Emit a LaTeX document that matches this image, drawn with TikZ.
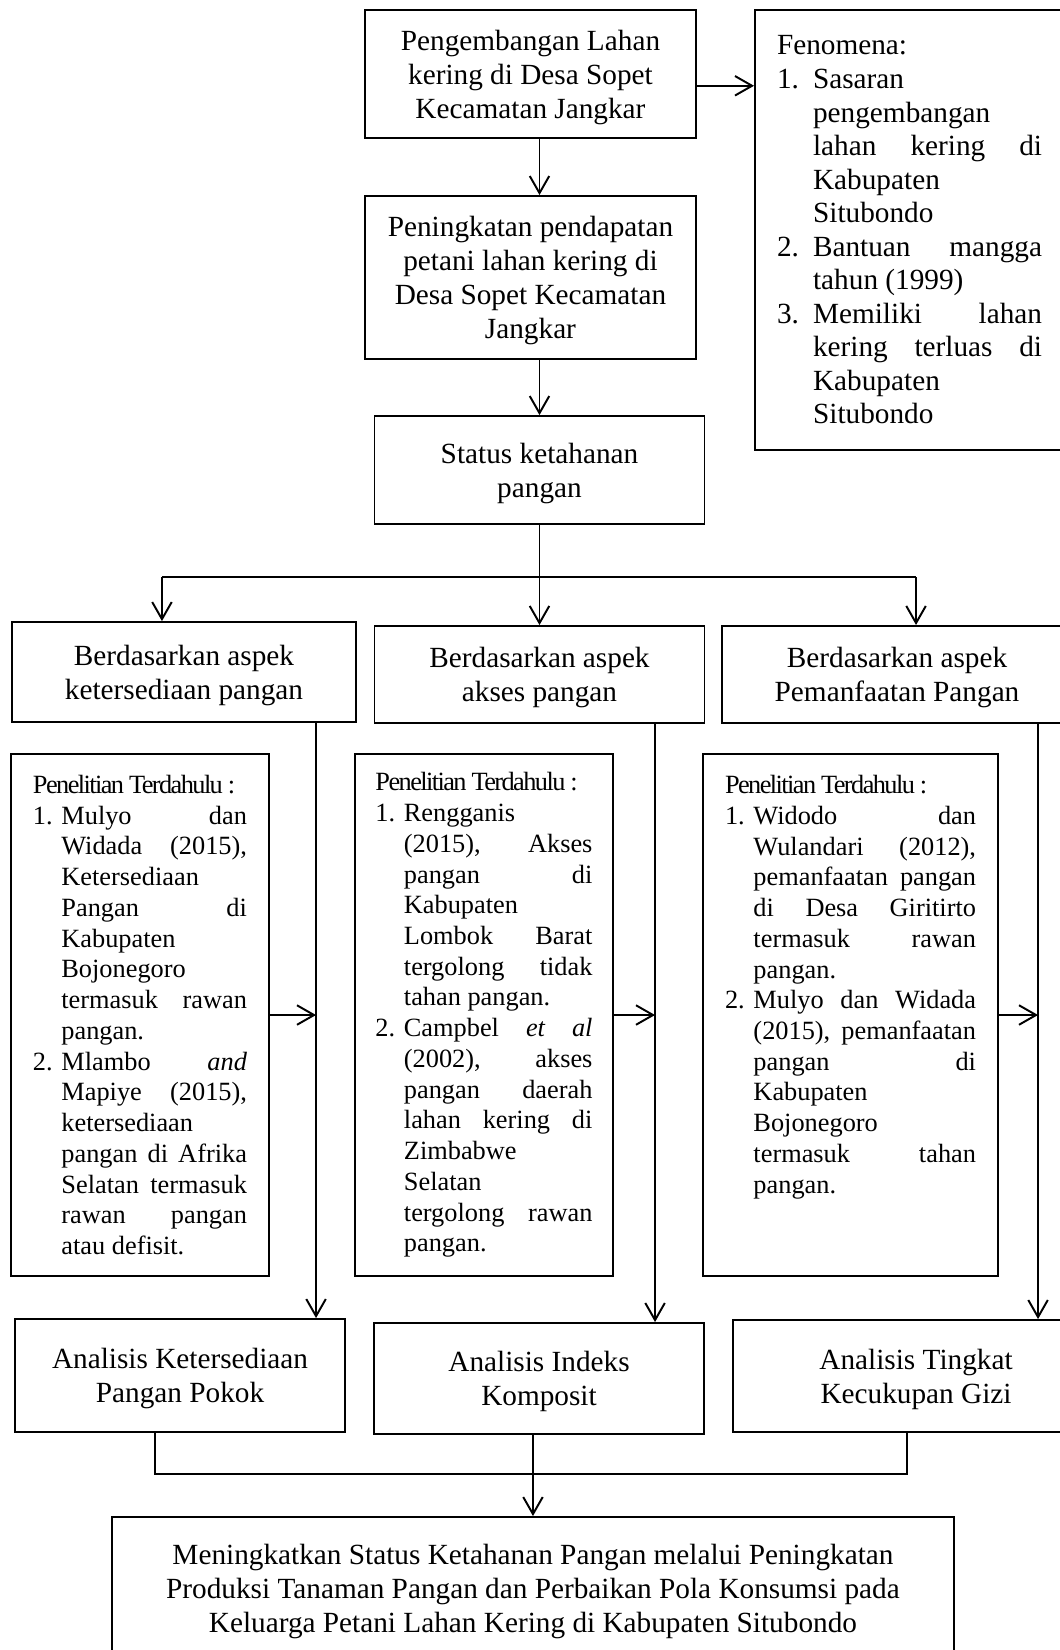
\documentclass[tikz,border=0pt]{standalone}
\usepackage{fontspec}
\setmainfont{Liberation Serif}
\usetikzlibrary{arrows.meta, positioning, calc}

\tolerance=10000
\hyphenpenalty=10000
\exhyphenpenalty=10000
\hbadness=10000

\newlength{\itemind}
\setlength{\itemind}{0.41cm}
\newcommand{\litem}[1]{\par\hangindent=\itemind\hangafter=1\noindent\makebox[\itemind][l]{#1}}
\newcommand{\lithead}{{\addfontfeature{LetterSpace=-6}Penelitian Terdahulu :}}

\begin{document}
\begin{tikzpicture}[
    box/.style={rectangle, draw, line width=0.8pt, align=center, inner sep=0pt, text depth=0pt,
        font=\fontsize{12}{13.9}\selectfont},
    list/.style={rectangle, draw, line width=0.8pt, align=justify, inner xsep=0pt, inner ysep=0pt},
    lit/.style={list, minimum height=7.52cm, font=\fontsize{10.8}{12.6}\selectfont},
    arrow/.style={->, >={Straight Barb[length=7pt,width=8pt]}, line width=0.8pt},
    line/.style={line width=0.8pt}
]
\useasboundingbox (0,0) rectangle (15.26,-23.776);

% Top: development and income
\node[box, minimum width=4.77cm, minimum height=1.844cm] (dev) at (7.644,-1.066) {
    Pengembangan Lahan\\
    kering di Desa Sopet\\
    Kecamatan Jangkar
};
\node[box, minimum width=4.77cm, minimum height=2.349cm] (prev) at (7.644,-3.999) {
    Peningkatan pendapatan\\
    petani lahan kering di\\
    Desa Sopet Kecamatan\\
    Jangkar
};
\node[box, minimum width=4.755cm, minimum height=1.556cm] (status) at (7.774,-6.773) {
    Status ketahanan\\
    pangan
};

% Fenomena: top-right
\node[list, font=\fontsize{12}{13.75}\selectfont, text width=3.819cm, minimum width=4.453cm,
    minimum height=6.34cm, execute at begin node={\setlength{\itemind}{0.52cm}}] (fen) at (13.106,-3.314) {
    Fenomena:
    \litem{1.}Sasaran\linebreak
    pengembangan\linebreak
    lahan kering di\linebreak
    Kabupaten\linebreak
    Situbondo
    \litem{2.}Bantuan mangga\linebreak
    tahun (1999)
    \litem{3.}Memiliki lahan\linebreak
    kering terluas di\linebreak
    Kabupaten\linebreak
    Situbondo\par
};

% Aspects
\node[box, minimum width=4.964cm, minimum height=1.441cm] (asp1) at (2.651,-9.684) {
    Berdasarkan aspek\\
    ketersediaan pangan
};
\node[box, minimum width=4.755cm, minimum height=1.398cm] (asp2) at (7.774,-9.719) {
    Berdasarkan aspek\\
    akses pangan
};
\node[box, minimum width=5.044cm, minimum height=1.398cm] (asp3) at (12.926,-9.719) {
    Berdasarkan aspek\\
    Pemanfaatan Pangan
};

% Previous research
\node[lit, text width=3.084cm, minimum width=3.711cm] (lit1) at (2.017,-14.626) {
    \lithead
    \litem{1.}Mulyo dan\linebreak
    Widada (2015),\linebreak
    Ketersediaan\linebreak
    Pangan di\linebreak
    Kabupaten\linebreak
    Bojonegoro\linebreak
    termasuk rawan\linebreak
    pangan.
    \litem{2.}Mlambo \textit{and}\linebreak
    Mapiye (2015),\linebreak
    ketersediaan\linebreak
    pangan di Afrika\linebreak
    Selatan termasuk\linebreak
    rawan pangan\linebreak
    atau defisit.\par
};
\node[lit, text width=3.127cm, minimum width=3.718cm] (lit2) at (6.974,-14.626) {
    \lithead
    \litem{1.}Rengganis\linebreak
    (2015), Akses\linebreak
    pangan di\linebreak
    Kabupaten\linebreak
    Lombok Barat\linebreak
    tergolong tidak\linebreak
    tahan pangan.
    \litem{2.}Campbel \textit{et al}\linebreak
    (2002), akses\linebreak
    pangan daerah\linebreak
    lahan kering di\linebreak
    Zimbabwe\linebreak
    Selatan\linebreak
    tergolong rawan\linebreak
    pangan.\par
};
\node[lit, text width=3.617cm, minimum width=4.251cm] (lit3) at (12.256,-14.626) {
    \lithead
    \litem{1.}Widodo dan\linebreak
    Wulandari (2012),\linebreak
    pemanfaatan pangan\linebreak
    di Desa Giritirto\linebreak
    termasuk rawan\linebreak
    pangan.
    \litem{2.}Mulyo dan Widada\linebreak
    (2015), pemanfaatan\linebreak
    pangan di\linebreak
    Kabupaten\linebreak
    Bojonegoro\linebreak
    termasuk tahan\linebreak
    pangan.
    \par\mbox{}\par\mbox{}\par
};

% Analyses
\node[box, minimum width=4.755cm, minimum height=1.628cm] (ana1) at (2.594,-19.821) {
    Analisis Ketersediaan\\
    Pangan Pokok
};
\node[box, minimum width=4.755cm, minimum height=1.6cm] (ana2) at (7.767,-19.864) {
    Analisis Indeks\\
    Komposit
};
\node[box, minimum width=5.274cm, minimum height=1.614cm] (ana3) at (13.2,-19.828) {
    Analisis Tingkat\\
    Kecukupan Gizi
};

% Goal: bottom
\node[box, minimum width=12.14cm, minimum height=2.046cm] (goal) at (7.68,-22.883) {
    Meningkatkan Status Ketahanan Pangan melalui Peningkatan\\
    Produksi Tanaman Pangan dan Perbaikan Pola Konsumsi pada\\
    Keluarga Petani Lahan Kering di Kabupaten Situbondo
};

% Helper points
\coordinate (split) at (7.774,-8.315);
\coordinate (bl) at (2.334,-8.315);
\coordinate (br) at (13.2,-8.315);
\coordinate (d1) at (4.554,0);
\coordinate (d2) at (9.439,0);
\coordinate (d3) at (14.958,0);
\coordinate (m1) at (2.234,-21.24);
\coordinate (m3) at (13.07,-21.24);

% Connectors
\draw[arrow] ([yshift=-0.17cm]dev.east) -- ([yshift=-0.17cm]dev.east -| fen.west);
\draw[arrow] (dev.south -| status) -- (prev.north -| status);
\draw[arrow] (prev.south -| status) -- (status.north);
\draw[line] (status.south) -- (split);
\draw[line] (bl) -- (br);
\draw[arrow] (bl) -- (bl |- asp1.north);
\draw[arrow] (split) -- (asp2.north);
\draw[arrow] (br) -- (br |- asp3.north);

\draw[arrow] (d1 |- asp1.south) -- (d1 |- ana1.north);
\draw[arrow] (d2 |- asp2.south) -- (d2 |- ana2.north);
\draw[arrow] (d3 |- asp3.south) -- (d3 |- ana3.north);
\draw[arrow] (lit1.east) -- (lit1.east -| d1);
\draw[arrow] (lit2.east) -- (lit2.east -| d2);
\draw[arrow] (lit3.east) -- (lit3.east -| d3);

\draw[line] (m1 |- ana1.south) -- (m1) -- (m3) -- (m3 |- ana3.south);
\draw[arrow] (goal.north |- ana2.south) -- (goal.north);

\end{tikzpicture}
\end{document}
